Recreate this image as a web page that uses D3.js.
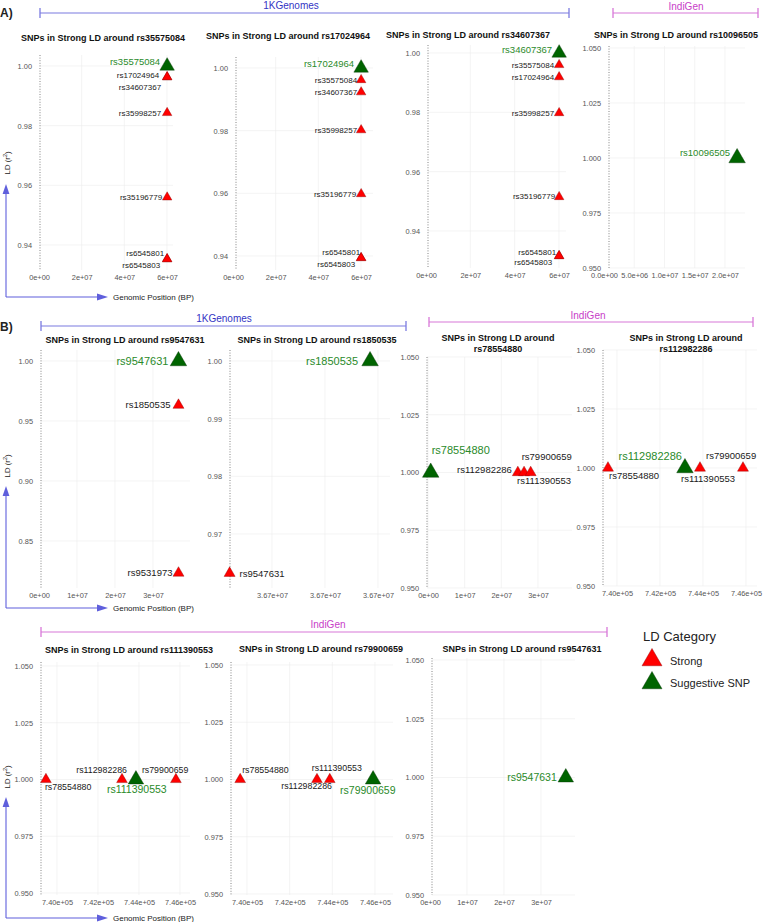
<!DOCTYPE html>
<html><head><meta charset="utf-8">
<script src="https://cdn.jsdelivr.net/npm/d3@7"></script>
<style>
html,body{margin:0;padding:0;background:#fff;}
svg{display:block;font-family:"Liberation Sans",Arial,Helvetica,sans-serif;}
</style></head><body>
<svg id="chart" width="763" height="922"></svg>
<script>
// ================= DATA =================
const categories = ["Strong", "Suggestive SNP"];
const sourceNames = ["1KGenomes", "IndiGen"];
const panelTitles = [
  "SNPs in Strong LD around rs35575084", "SNPs in Strong LD around rs17024964",
  "SNPs in Strong LD around rs34607367", "SNPs in Strong LD around rs10096505",
  "SNPs in Strong LD around rs9547631", "SNPs in Strong LD around rs1850535",
  "SNPs in Strong LD around rs78554880", "SNPs in Strong LD around rs112982286",
  "SNPs in Strong LD around rs111390553", "SNPs in Strong LD around rs79900659",
  "SNPs in Strong LD around rs9547631"
];

// tick values and labels
const ticks60M = [0, 2e7, 4e7, 6e7];
const ticks60MLabels = ["0e+00", "2e+07", "4e+07", "6e+07"];
const ticks20M = [0, 5e6, 1e7, 1.5e7, 2e7];
const ticks20MLabels = ["0.0e+00", "5.0e+06", "1.0e+07", "1.5e+07", "2.0e+07"];
const ticks30M = [0, 1e7, 2e7, 3e7];
const ticks30MLabels = ["0e+00", "1e+07", "2e+07", "3e+07"];
const ticksChr13 = [36702000, 36704000, 36706000];
const ticksChr13Labels = ["3.67e+07", "3.67e+07", "3.67e+07"];
const ticksKb = [740000, 742000, 744000, 746000];
const ticksKbLabels = ["7.40e+05", "7.42e+05", "7.44e+05", "7.46e+05"];
const ticksLdA = [0.94, 0.96, 0.98, 1.00];
const ticksLdALabels = ["0.94", "0.96", "0.98", "1.00"];
const ticksLd3 = [0.950, 0.975, 1.000, 1.025, 1.050];
const ticksLd3Labels = ["0.950", "0.975", "1.000", "1.025", "1.050"];
const ticksLdB1 = [0.85, 0.90, 0.95, 1.00];
const ticksLdB1Labels = ["0.85", "0.90", "0.95", "1.00"];
const ticksLdB2 = [0.97, 0.98, 0.99, 1.00];
const ticksLdB2Labels = ["0.97", "0.98", "0.99", "1.00"];

// A1
const a1Snps = ["rs35575084","rs17024964","rs34607367","rs35998257","rs35196779","rs6545801","rs6545803"];
const a1Pos = [60061000, 60058000, 60064000, 60052000, 60070000, 60045000, 60046000];
const a1Ld = [1.000, 0.9963, 0.9963, 0.9843, 0.9560, 0.9353, 0.9353];
const a1Cat = ["Suggestive SNP","Strong","Strong","Strong","Strong","Strong","Strong"];
// A2
const a2Snps = ["rs17024964","rs35575084","rs34607367","rs35998257","rs35196779","rs6545801","rs6545803"];
const a2Pos = [60058000, 60061000, 60064000, 60052000, 60070000, 60045000, 60046000];
const a2Ld = [1.000, 0.9962, 0.9923, 0.9802, 0.9598, 0.9394, 0.9394];
const a2Cat = ["Suggestive SNP","Strong","Strong","Strong","Strong","Strong","Strong"];
// A3
const a3Snps = ["rs34607367","rs35575084","rs17024964","rs35998257","rs35196779","rs6545801","rs6545803"];
const a3Pos = [60064000, 60061000, 60058000, 60052000, 60070000, 60045000, 60046000];
const a3Ld = [1.000, 0.9960, 0.9919, 0.9798, 0.9515, 0.9316, 0.9316];
const a3Cat = ["Suggestive SNP","Strong","Strong","Strong","Strong","Strong","Strong"];
// A4
const a4Snps = ["rs10096505"];
const a4Pos = [22000000];
const a4Ld = [1.000];
const a4Cat = ["Suggestive SNP"];
// B1
const b1Snps = ["rs9547631","rs1850535","rs9531973"];
const b1Pos = [36700400, 36705700, 36712000];
const b1Ld = [1.000, 0.9632, 0.8233];
const b1Cat = ["Suggestive SNP","Strong","Strong"];
// B2
const b2Snps = ["rs9547631","rs1850535"];
const b2Pos = [36700400, 36705700];
const b2Ld = [0.9632, 1.000];
const b2Cat = ["Strong","Suggestive SNP"];
// B3
const b3Snps = ["rs78554880","rs112982286","rs111390553","rs79900659"];
const b3Pos = [739400, 24500000, 26200000, 28000000];
const b3Ld = [1.000, 1.000, 1.000, 1.000];
const b3Cat = ["Suggestive SNP","Strong","Strong","Strong"];
// B4
const b4Snps = ["rs78554880","rs112982286","rs111390553","rs79900659"];
const b4Pos = [739580, 743160, 743860, 745860];
const b4Ld = [1.000, 1.000, 1.000, 1.000];
const b4Cat = ["Strong","Suggestive SNP","Strong","Strong"];
// C1
const c1Snps = ["rs78554880","rs112982286","rs111390553","rs79900659"];
const c1Pos = [739460, 743170, 743850, 745800];
const c1Ld = [1.000, 1.000, 1.000, 1.000];
const c1Cat = ["Strong","Strong","Suggestive SNP","Strong"];
// C2
const c2Snps = ["rs78554880","rs112982286","rs111390553","rs79900659"];
const c2Pos = [739680, 743280, 743880, 745910];
const c2Ld = [1.000, 1.000, 1.000, 1.000];
const c2Cat = ["Strong","Strong","Strong","Suggestive SNP"];
// C3
const c3Snps = ["rs9547631"];
const c3Pos = [36700400];
const c3Ld = [1.000];
const c3Cat = ["Suggestive SNP"];

// ================= LAYOUT / STYLE =================
const FONT = '"Liberation Sans", Arial, Helvetica, sans-serif';
const catFill = d3.scaleOrdinal().domain(categories).range(["#ff0000", "#006400"]);
const labelColor = { "Strong": "#1a1a1a", "Suggestive SNP": "#2a8a2a" };
const rowStyle = {
  A: { lab: 8, focusLab: 9.5, side: 9.5, focusSide: 14.5 },
  B: { lab: 9.5, focusLab: 11, side: 11, focusSide: 16.5 },
  C: { lab: 8.8, focusLab: 10.5, side: 10.7, focusSide: 15.5 }
};
// label offsets [dx, dy, anchor] (repel-like placement)
const labA1 = [[-7,-4,"e"],[-8,-2,"e"],[-6,10,"e"],[-6,0,"e"],[-5,0,"e"],[-3,-6,"e"],[-7,6,"e"]];
const labA2 = [[-7,-4,"e"],[-4,0,"e"],[-4,0,"e"],[-4,0,"e"],[-5,0,"e"],[-1,-6,"e"],[-6,6,"e"]];
const labA3 = [[-7,-3,"e"],[-5,0,"e"],[-5,0,"e"],[-5,0,"e"],[-4,-1,"e"],[-3,-4,"e"],[-7,6,"e"]];
const labA4 = [[-7,-5,"e"]];
const labB1 = [[-10,0,"e"],[-8,0,"e"],[-6,0,"e"]];
const labB2 = [[10,0,"s"],[-12,0,"e"]];
const labB3 = [[1,-22,"s"],[-6,-3,"e"],[-7,8,"s"],[-9,-16,"s"]];
const labB4 = [[1,8,"s"],[-3,-12,"e"],[-19,11,"s"],[-37,-12,"s"]];
const labC1 = [[-1,7,"s"],[5,-10,"e"],[-29,10,"s"],[-34,-10,"s"]];
const labC2 = [[2,-10,"s"],[15,6,"e"],[-18,-12,"s"],[-33,11,"s"]];
const labC3 = [[-9,0,"e"]];

const panels = [
  { row:"A", title:panelTitles[0], tx:103, ty:[38], snps:a1Snps, pos:a1Pos, ld:a1Ld, cat:a1Cat, lab:labA1,
    xt:ticks60M, xl:ticks60MLabels, yt:ticksLdA, yl:ticksLdALabels, xr:[39,167], yr:[245,66], box:{l:40,t:55,r:173,b:270} },
  { row:"A", title:panelTitles[1], tx:288, ty:[36], snps:a2Snps, pos:a2Pos, ld:a2Ld, cat:a2Cat, lab:labA2,
    xt:ticks60M, xl:ticks60MLabels, yt:ticksLdA, yl:ticksLdALabels, xr:[233,361], yr:[256,68], box:{l:236,t:57,r:373,b:270} },
  { row:"A", title:panelTitles[2], tx:468, ty:[35], snps:a3Snps, pos:a3Pos, ld:a3Ld, cat:a3Cat, lab:labA3,
    xt:ticks60M, xl:ticks60MLabels, yt:ticksLdA, yl:ticksLdALabels, xr:[426,559], yr:[231,53], box:{l:428,t:45,r:566,b:268} },
  { row:"A", title:panelTitles[3], tx:676, ty:[35], snps:a4Snps, pos:a4Pos, ld:a4Ld, cat:a4Cat, lab:labA4, focusSide:16.5,
    xt:ticks20M, xl:ticks20MLabels, yt:ticksLd3, yl:ticksLd3Labels, xr:[604,725], yr:[268,48], box:{l:609,t:46,r:745,b:268} },
  { row:"B", title:panelTitles[4], tx:125, ty:[340], snps:b1Snps, pos:b1Pos, ld:b1Ld, cat:b1Cat, lab:labB1,
    xt:ticks30M, xl:ticks30MLabels, yt:ticksLdB1, yl:ticksLdB1Labels, xr:[39,153], yr:[541,361], box:{l:41,t:350,r:190,b:588} },
  { row:"B", title:panelTitles[5], tx:317, ty:[340], snps:b2Snps, pos:b2Pos, ld:b2Ld, cat:b2Cat, lab:labB2,
    xt:ticksChr13, xl:ticksChr13Labels, yt:ticksLdB2, yl:ticksLdB2Labels, xr:[272,378], yr:[534,361], box:{l:230,t:350,r:390,b:588} },
  { row:"B", title:panelTitles[6], tx:498, ty:[338,349], snps:b3Snps, pos:b3Pos, ld:b3Ld, cat:b3Cat, lab:labB3,
    xt:ticks30M, xl:ticks30MLabels, yt:ticksLd3, yl:ticksLd3Labels, xr:[428,538], yr:[588,357], box:{l:427,t:357,r:572,b:588} },
  { row:"B", title:panelTitles[7], tx:686, ty:[338,349], snps:b4Snps, pos:b4Pos, ld:b4Ld, cat:b4Cat, lab:labB4,
    xt:ticksKb, xl:ticksKbLabels, yt:ticksLd3, yl:ticksLd3Labels, xr:[617,746], yr:[586,350], box:{l:603,t:350,r:757,b:586} },
  { row:"C", title:panelTitles[8], tx:129, ty:[650], snps:c1Snps, pos:c1Pos, ld:c1Ld, cat:c1Cat, lab:labC1,
    xt:ticksKb, xl:ticksKbLabels, yt:ticksLd3, yl:ticksLd3Labels, xr:[57,180], yr:[893,666], box:{l:41,t:662,r:190,b:895} },
  { row:"C", title:panelTitles[9], tx:321, ty:[649], snps:c2Snps, pos:c2Pos, ld:c2Ld, cat:c2Cat, lab:labC2,
    xt:ticksKb, xl:ticksKbLabels, yt:ticksLd3, yl:ticksLd3Labels, xr:[247,375], yr:[894,665], box:{l:231,t:662,r:393,b:895} },
  { row:"C", title:panelTitles[10], tx:522, ty:[649], snps:c3Snps, pos:c3Pos, ld:c3Ld, cat:c3Cat, lab:labC3,
    xt:ticks30M, xl:ticks30MLabels, yt:ticksLd3, yl:ticksLd3Labels, xr:[430,541], yr:[895,660], box:{l:432,t:658,r:575,b:895} }
];

const svg = d3.select("#chart");
svg.append("rect").attr("width", 763).attr("height", 922).attr("fill", "#fff");

function triArea(side) { return Math.sqrt(3) / 4 * side * side; }

function drawPanel(p) {
  const g = svg.append("g");
  const b = p.box;
  const st = rowStyle[p.row];
  const x = d3.scaleLinear().domain([p.xt[0], p.xt[p.xt.length - 1]]).range(p.xr);
  const y = d3.scaleLinear().domain([p.yt[0], p.yt[p.yt.length - 1]]).range(p.yr);

  // grid
  g.selectAll("line.hg").data(p.yt).join("line").attr("class", "hg")
    .attr("x1", b.l).attr("x2", b.r).attr("y1", d => y(d)).attr("y2", d => y(d))
    .attr("stroke", "#ececec").attr("stroke-width", 0.6);
  g.selectAll("line.vg").data(p.xt.filter(d => x(d) >= b.l - 0.5 && x(d) <= b.r)).join("line").attr("class", "vg")
    .attr("x1", d => x(d)).attr("x2", d => x(d)).attr("y1", b.t).attr("y2", b.b)
    .attr("stroke", "#ececec").attr("stroke-width", 0.6);

  // axes
  const gx = g.append("g").attr("transform", `translate(0,${b.b})`)
    .call(d3.axisBottom(x).tickValues(p.xt).tickFormat((d, i) => p.xl[i]).tickSize(0).tickPadding(5));
  gx.select(".domain").remove();
  gx.attr("font-family", FONT).attr("font-size", 7.4);
  gx.selectAll("text").attr("fill", "#555");

  const gy = g.append("g").attr("transform", `translate(${b.l},0)`)
    .call(d3.axisLeft(y).tickValues(p.yt).tickFormat((d, i) => p.yl[i]).tickSize(0).tickPadding(8));
  gy.select(".domain").remove();
  gy.attr("font-family", FONT).attr("font-size", 7.4);
  gy.selectAll("text").attr("fill", "#555");

  // dotted axis line
  g.append("line").attr("x1", b.l).attr("x2", b.l).attr("y1", b.t).attr("y2", b.b)
    .attr("stroke", "#777").attr("stroke-width", 0.9).attr("stroke-dasharray", "1,1.6");

  // title
  const t = g.append("text").attr("x", p.tx).attr("text-anchor", "middle")
    .attr("font-family", FONT).attr("font-weight", "bold").attr("font-size", 9).attr("fill", "#111");
  const lines = p.ty.length > 1 ? [p.title.replace(/ (rs\d+)$/, ""), p.title.match(/rs\d+$/)[0]] : [p.title];
  lines.forEach((ln, i) => t.append("tspan").attr("x", p.tx).attr("y", p.ty[i]).attr("dy", "0.35em").text(ln));

  const rows = p.snps.map((s, i) => ({ snp: s, pos: p.pos[i], ld: p.ld[i], cat: p.cat[i], lab: p.lab[i] }));
  const focusSide = p.focusSide || st.focusSide;

  // points
  g.selectAll("path.pt").data(rows).join("path").attr("class", "pt")
    .attr("transform", d => `translate(${x(d.pos)},${y(d.ld)})`)
    .attr("d", d => d3.symbol(d3.symbolTriangle, triArea(d.cat === "Strong" ? st.side : focusSide))())
    .attr("fill", d => catFill(d.cat))
    .attr("stroke", d => d.cat === "Strong" ? "#8a0000" : "#003000").attr("stroke-width", 0.4);

  // labels
  g.selectAll("text.lab").data(rows).join("text").attr("class", "lab")
    .attr("x", d => x(d.pos) + d.lab[0]).attr("y", d => y(d.ld) + d.lab[1]).attr("dy", "0.35em")
    .attr("text-anchor", d => d.lab[2] === "e" ? "end" : "start")
    .attr("font-family", FONT)
    .attr("font-size", d => d.cat === "Strong" ? st.lab : st.focusLab)
    .attr("fill", d => labelColor[d.cat])
    .text(d => d.snp);
}
panels.forEach(drawPanel);

// brackets
function bracket(x1, x2, yy, label, tx, ty, lineColor, textColor) {
  const g = svg.append("g");
  g.append("line").attr("x1", x1).attr("x2", x2).attr("y1", yy).attr("y2", yy).attr("stroke", lineColor).attr("stroke-width", 1.1);
  [x1, x2].forEach(xx => g.append("line").attr("x1", xx).attr("x2", xx).attr("y1", yy - 5).attr("y2", yy + 5)
    .attr("stroke", lineColor).attr("stroke-width", 1.3));
  g.append("text").attr("x", tx).attr("y", ty).attr("dy", "0.35em").attr("text-anchor", "middle")
    .attr("font-family", FONT).attr("font-size", 10).attr("fill", textColor).text(label);
}
const blueLine = "#7b7be0", blueText = "#3434c4", pinkLine = "#d878d8", pinkText = "#c840c8";
bracket(40, 569, 13, sourceNames[0], 291, 5, blueLine, blueText);
bracket(613, 758, 13, sourceNames[1], 686, 6, pinkLine, pinkText);
bracket(41, 406, 326, sourceNames[0], 224, 318, blueLine, blueText);
bracket(429, 753, 322, sourceNames[1], 588, 315, pinkLine, pinkText);
bracket(41, 607, 632, sourceNames[1], 328, 624, pinkLine, pinkText);

// section labels
svg.append("text").attr("x", 0).attr("y", 13).attr("dy", "0.35em").attr("font-family", FONT)
  .attr("font-weight", "bold").attr("font-size", 12).attr("fill", "#222").text("A)");
svg.append("text").attr("x", 0).attr("y", 327).attr("dy", "0.35em").attr("font-family", FONT)
  .attr("font-weight", "bold").attr("font-size", 12).attr("fill", "#222").text("B)");

// axis arrows
function axisArrows(yBase, yTip, ldY) {
  const c = "#5f5fdc";
  const g = svg.append("g");
  g.append("line").attr("x1", 6).attr("x2", 6).attr("y1", yBase).attr("y2", yTip + 8).attr("stroke", c).attr("stroke-width", 1.1);
  g.append("path").attr("d", `M6,${yTip} L2.6,${yTip + 10} L9.4,${yTip + 10} Z`).attr("fill", c);
  g.append("line").attr("x1", 6).attr("x2", 98).attr("y1", yBase).attr("y2", yBase).attr("stroke", c).attr("stroke-width", 1.1);
  g.append("path").attr("d", `M108,${yBase} L97,${yBase - 3.4} L97,${yBase + 3.4} Z`).attr("fill", c);
  g.append("text").attr("x", 113).attr("y", yBase).attr("dy", "0.35em").attr("font-family", FONT)
    .attr("font-size", 8).attr("fill", "#222").text("Genomic Position (BP)");
  const t = g.append("text").attr("transform", `translate(7,${ldY}) rotate(-90)`).attr("text-anchor", "middle")
    .attr("dy", "0.35em").attr("font-family", FONT).attr("font-size", 8).attr("fill", "#222");
  t.append("tspan").text("LD (r");
  t.append("tspan").attr("font-size", 5.5).attr("dy", "-0.6em").text("2");
  t.append("tspan").attr("dy", "0.45em").text(")");
}
axisArrows(297, 184, 163);
axisArrows(608, 486, 466);
axisArrows(918, 797, 777);

// legend
const lg = svg.append("g");
lg.append("text").attr("x", 643).attr("y", 636).attr("dy", "0.35em").attr("font-family", FONT)
  .attr("font-size", 13).attr("fill", "#222").text("LD Category");
categories.forEach((c, i) => {
  lg.append("path").attr("transform", `translate(652,${660 + i * 23})`)
    .attr("d", d3.symbol(d3.symbolTriangle, triArea(20))())
    .attr("fill", catFill(c)).attr("stroke", c === "Strong" ? "#8a0000" : "#003000").attr("stroke-width", 0.4);
  lg.append("text").attr("x", 670).attr("y", 661 + i * 22).attr("dy", "0.35em").attr("font-family", FONT)
    .attr("font-size", 11).attr("fill", "#222").text(c);
});
</script>
</body></html>
